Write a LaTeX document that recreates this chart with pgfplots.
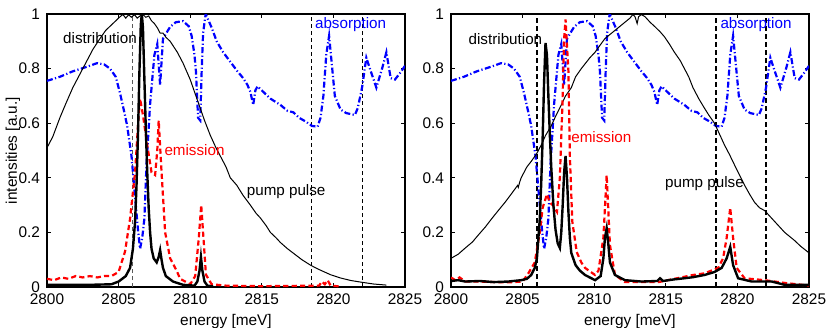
\documentclass[border=0pt]{standalone}
\usepackage{pgfplots}
\pgfplotsset{compat=1.18}
\usepackage{pgfplotstable}
\usepackage{fontspec}
\setmainfont{Liberation Sans}

\pgfplotstableread{
E I
2800.0 0.755
2800.9 0.77
2801.8 0.79
2802.8 0.807
2803.5 0.82
2804.0 0.815
2804.4 0.80
2804.8 0.77
2805.1 0.71
2805.4 0.64
2805.6 0.59
2805.9 0.48
2806.15 0.33
2806.37 0.20
2806.5 0.14
2806.65 0.18
2806.8 0.25
2806.95 0.45
2807.2 0.67
2807.5 0.85
2807.7 0.89
2807.9 0.74
2808.1 0.91
2808.6 0.953
2809.0 0.97
2809.5 0.974
2809.9 0.955
2810.1 0.92
2810.3 0.85
2810.4 0.79
2810.55 0.62
2810.7 0.61
2810.8 0.79
2810.9 0.93
2811.08 1.0
2811.5 0.95
2811.85 0.90
2812.3 0.86
2812.8 0.825
2813.3 0.79
2813.7 0.765
2814.0 0.74
2814.2 0.715
2814.4 0.667
2814.55 0.72
2814.7 0.735
2815.0 0.72
2815.6 0.69
2816.3 0.667
2816.8 0.645
2817.2 0.64
2817.6 0.62
2818.1 0.605
2818.5 0.59
2818.9 0.587
2819.1 0.62
2819.3 0.70
2819.5 0.85
2819.7 0.92
2819.9 0.81
2820.1 0.70
2820.5 0.65
2820.9 0.637
2821.5 0.63
2821.7 0.655
2822.0 0.73
2822.3 0.84
2822.55 0.80
2823.0 0.73
2823.4 0.80
2823.7 0.86
2824.0 0.765
2824.3 0.76
2824.6 0.78
2825.0 0.81
}\absorb

\pgfplotstableread{
E I
2800.0 0.51
2800.4 0.55
2800.9 0.62
2801.3 0.67
2801.8 0.73
2802.3 0.78
2802.8 0.83
2803.2 0.87
2803.7 0.91
2804.1 0.94
2804.6 0.965
2804.9 0.98
2805.1 0.99
2805.3 0.998
2805.5 0.985
2805.7 0.997
2805.9 0.988
2806.1 0.998
2806.3 0.985
2806.5 0.993
2806.7 0.998
2806.9 0.988
2807.1 0.993
2807.3 0.975
2807.5 0.965
2807.7 0.95
2807.9 0.93
2808.1 0.93
2808.3 0.915
2808.6 0.90
2809.1 0.86
2809.5 0.82
2810.0 0.76
2810.4 0.70
2810.7 0.655
2811.0 0.61
2811.4 0.556
2811.8 0.51
2812.1 0.48
2812.5 0.44
2812.8 0.40
2813.25 0.373
2813.7 0.335
2814.2 0.30
2814.6 0.27
2814.9 0.253
2815.3 0.225
2815.6 0.20
2816.0 0.18
2816.3 0.163
2816.8 0.14
2817.3 0.12
2817.8 0.10
2818.4 0.08
2819.0 0.064
2819.8 0.045
2820.5 0.033
2821.2 0.024
2821.9 0.018
2822.8 0.011
2823.7 0.007
}\pumpL

\pgfplotstableread{
E I
2800.0 0.008
2803.0 0.008
2804.5 0.01
2805.0 0.02
2805.5 0.04
2805.8 0.07
2806.0 0.14
2806.15 0.24
2806.25 0.37
2806.35 0.55
2806.45 0.78
2806.55 0.96
2806.62 1.0
2806.7 0.95
2806.78 0.80
2806.9 0.58
2807.0 0.42
2807.1 0.29
2807.2 0.20
2807.3 0.14
2807.45 0.105
2807.66 0.09
2807.8 0.11
2807.9 0.135
2808.0 0.10
2808.1 0.07
2808.3 0.04
2808.8 0.02
2809.5 0.008
2810.3 0.005
2810.5 0.02
2810.65 0.06
2810.75 0.11
2810.85 0.06
2811.0 0.02
2811.2 0.005
2811.6 0.002
}\distL

\pgfplotstableread{
E I
2800.0 0.03
2800.5 0.025
2801.0 0.035
2801.5 0.03
2802.0 0.04
2802.5 0.035
2803.0 0.04
2803.5 0.035
2804.0 0.04
2804.5 0.04
2805.0 0.055
2805.45 0.13
2805.8 0.25
2806.15 0.42
2806.4 0.63
2806.5 0.69
2806.7 0.63
2807.0 0.52
2807.3 0.42
2807.55 0.41
2807.7 0.50
2807.8 0.61
2808.0 0.42
2808.25 0.20
2808.6 0.105
2809.05 0.06
2809.3 0.03
2810.0 0.01
2810.35 0.04
2810.6 0.18
2810.77 0.30
2810.9 0.20
2811.1 0.045
2811.5 0.01
2812.5 0.005
2815.0 0.003
2819.0 0.005
2819.2 0.02
2819.4 0.01
2819.6 0.025
2819.8 0.005
2820.5 0.002
}\emisL

\pgfplotstableread{
E I
2800.0 0.105
2800.5 0.12
2801.0 0.143
2801.5 0.165
2801.9 0.19
2802.4 0.22
2802.84 0.25
2803.3 0.28
2803.77 0.31
2804.2 0.34
2804.55 0.365
2804.65 0.372
2804.7 0.365
2804.8 0.385
2804.9 0.40
2805.0 0.41
2805.3 0.44
2805.6 0.46
2806.0 0.49
2806.3 0.52
2806.6 0.555
2807.0 0.59
2807.3 0.625
2807.7 0.667
2808.0 0.70
2808.4 0.73
2808.7 0.77
2809.1 0.80
2809.4 0.82
2809.7 0.84
2810.06 0.86
2810.4 0.885
2810.75 0.91
2811.1 0.925
2811.45 0.94
2811.8 0.955
2812.15 0.97
2812.5 0.985
2812.7 0.998
2812.85 0.99
2813.0 0.965
2813.1 0.99
2813.3 0.998
2813.55 0.99
2813.9 0.97
2814.25 0.953
2814.6 0.935
2814.9 0.917
2815.25 0.89
2815.6 0.86
2816.0 0.83
2816.3 0.80
2816.6 0.77
2816.9 0.73
2817.3 0.69
2817.7 0.655
2818.0 0.63
2818.4 0.60
2818.75 0.56
2819.1 0.52
2819.45 0.485
2819.8 0.447
2820.15 0.41
2820.5 0.373
2820.85 0.34
2821.2 0.31
2821.55 0.29
2821.9 0.28
2822.25 0.26
2822.6 0.24
2822.95 0.22
2823.3 0.20
2823.65 0.185
2824.0 0.17
2824.4 0.15
2825.0 0.125
}\pumpR

\pgfplotstableread{
E I
2800.0 0.022
2800.5 0.025
2801.0 0.02
2802.0 0.022
2803.0 0.018
2804.0 0.02
2804.9 0.025
2805.3 0.03
2805.6 0.044
2805.85 0.07
2806.0 0.105
2806.2 0.25
2806.3 0.38
2806.4 0.545
2806.5 0.75
2806.6 0.894
2806.7 0.85
2806.8 0.70
2806.9 0.56
2807.0 0.44
2807.15 0.30
2807.3 0.21
2807.45 0.16
2807.6 0.143
2807.7 0.20
2807.8 0.30
2807.9 0.42
2808.0 0.48
2808.1 0.40
2808.2 0.275
2808.3 0.18
2808.4 0.125
2808.7 0.08
2809.0 0.06
2809.36 0.044
2810.06 0.025
2810.45 0.04
2810.64 0.105
2810.75 0.18
2810.87 0.215
2810.98 0.16
2811.1 0.09
2811.45 0.044
2812.15 0.025
2813.3 0.02
2814.4 0.022
2814.6 0.032
2814.8 0.022
2815.6 0.028
2816.3 0.032
2816.9 0.036
2817.7 0.044
2818.4 0.055
2818.9 0.07
2819.25 0.105
2819.5 0.147
2819.7 0.08
2820.05 0.032
2821.0 0.02
2822.4 0.02
2823.3 0.008
2825.0 0.008
}\distR

\pgfplotstableread{
E I
2800.0 0.035
2800.3 0.025
2800.6 0.035
2801.0 0.02
2802.0 0.02
2803.0 0.018
2804.0 0.017
2805.0 0.02
2805.4 0.05
2805.85 0.09
2806.2 0.20
2806.4 0.29
2806.7 0.34
2806.9 0.31
2807.1 0.30
2807.4 0.275
2807.6 0.40
2807.78 0.667
2807.9 0.91
2808.0 0.98
2808.2 0.79
2808.3 0.48
2808.47 0.24
2808.78 0.128
2809.1 0.09
2809.36 0.07
2810.06 0.044
2810.3 0.06
2810.64 0.18
2810.87 0.41
2811.1 0.154
2811.45 0.044
2812.15 0.018
2814.5 0.018
2815.6 0.03
2816.9 0.044
2817.7 0.05
2818.66 0.07
2819.0 0.105
2819.25 0.18
2819.5 0.29
2819.7 0.18
2819.95 0.07
2820.5 0.032
2821.9 0.025
2823.3 0.015
2825.0 0.005
}\emisR

\tikzset{
  pump/.style={black, line width=0.5pt},
  dist/.style={black, line width=1.2pt},
  emis/.style={red, line width=1.1pt, dash pattern=on 2.6pt off 1.6pt},
  absb/.style={blue, line width=1.1pt, dash pattern=on 3pt off 1.2pt on 0.6pt off 1.2pt},
  lab/.style={font=\fontsize{7.6}{9}\selectfont, inner sep=0pt},
}
\pgfplotsset{
  panel/.style={
    scale only axis, width=179pt, height=136.5pt,
    xmin=2800, xmax=2825, ymin=0, ymax=1,
    xtick={2800,2805,2810,2815,2820,2825},
    ytick={0,0.2,0.4,0.6,0.8,1},
    yticklabels={0,0.2,0.4,0.6,0.8,1},
    /pgf/number format/1000 sep={},
    /pgf/number format/assume math mode=true,
    tick align=inside, major tick length=2pt,
    tick style={black, line width=0.6pt},
    axis line style={line width=1.3pt},
    xticklabel style={font=\fontsize{7.7}{9}\selectfont},
    yticklabel style={font=\fontsize{7.7}{9}\selectfont},
    label style={font=\fontsize{7.7}{9}\selectfont},
    xlabel={energy [meV]},
    xlabel style={yshift=2pt},
    clip=true,
  },
}

\begin{document}
\begin{tikzpicture}
\useasboundingbox (0,0) rectangle (415pt,163.5pt);
\begin{axis}[panel, at={(23.5pt,20pt)}, anchor=south west,
  ylabel={intensities [a.u.]},
  ylabel style={at={(axis description cs:-0.095,0.5)}, anchor=center}]
\addplot[gray!70!black, line width=0.5pt, dash pattern=on 2pt off 1.5pt] coordinates {(2806,0) (2806,1)};
\addplot[black, line width=0.5pt, dash pattern=on 2pt off 1.5pt] coordinates {(2818.5,0) (2818.5,1)};
\addplot[black, line width=0.5pt, dash pattern=on 2pt off 1.5pt] coordinates {(2822,0) (2822,1)};
\addplot[absb] table[x=E,y=I] {\absorb};
\addplot[pump] table[x=E,y=I] {\pumpL};
\addplot[emis] table[x=E,y=I] {\emisL};
\addplot[dist] table[x=E,y=I] {\distL};
\node[lab] at (axis cs:2803.7,0.912) {distribution};
\node[lab, red] at (axis cs:2810.3,0.50) {emission};
\node[lab] at (axis cs:2816.7,0.35) {pump pulse};
\node[lab, blue] at (axis cs:2821.2,0.96) {absorption};
\end{axis}
\begin{axis}[panel, at={(225.5pt,20pt)}, anchor=south west]
\addplot[black, line width=1pt, dash pattern=on 2.5pt off 1.5pt] coordinates {(2806,0) (2806,1)};
\addplot[black, line width=1pt, dash pattern=on 2.5pt off 1.5pt] coordinates {(2818.5,0) (2818.5,1)};
\addplot[black, line width=1pt, dash pattern=on 2.5pt off 1.5pt] coordinates {(2822,0) (2822,1)};
\addplot[absb] table[x=E,y=I] {\absorb};
\addplot[pump] table[x=E,y=I] {\pumpR};
\addplot[emis] table[x=E,y=I] {\emisR};
\addplot[dist] table[x=E,y=I] {\distR};
\node[lab] at (axis cs:2803.8,0.91) {distribution};
\node[lab, red] at (axis cs:2810.5,0.55) {emission};
\node[lab] at (axis cs:2817.7,0.38) {pump pulse};
\node[lab, blue] at (axis cs:2821.3,0.96) {absorption};
\end{axis}
\end{tikzpicture}
\end{document}
